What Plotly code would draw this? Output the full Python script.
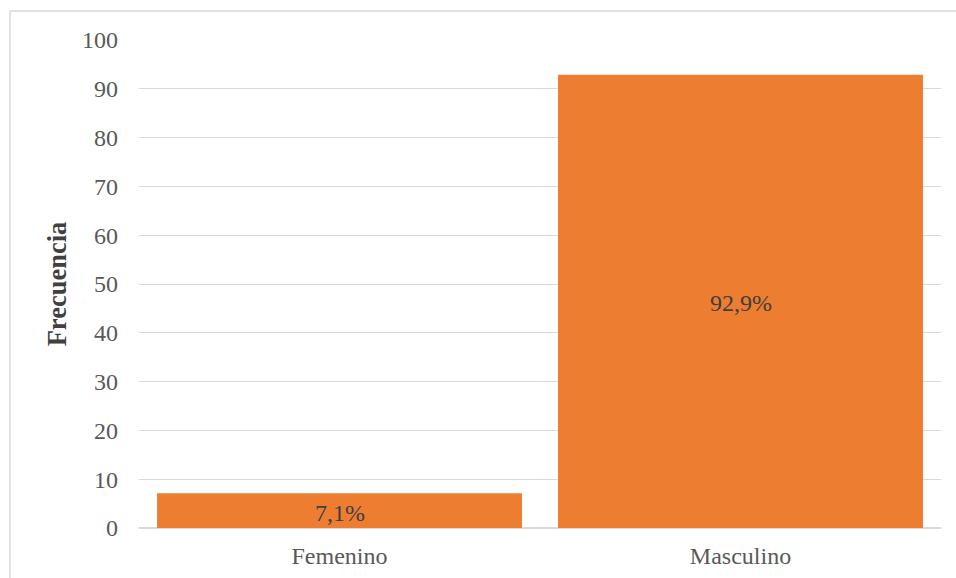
import plotly.graph_objects as go

categories = ["Femenino", "Masculino"]
values = [7.1, 92.9]
labels = ["7,1%", "92,9%"]
tick_vals = [0, 10, 20, 30, 40, 50, 60, 70, 80, 90, 100]

L, R, T, B = 139, 15, 40, 50
W, H = 956, 578
pw, ph = W - L - R, H - T - B
SERIF = "Liberation Serif"

fig = go.Figure(go.Bar(
    x=categories, y=values,
    marker=dict(color="#ED7D31", line=dict(width=0)),
    width=0.91,
))

annotations = [
    dict(x=c, y=v / 2, xref="x", yref="y", text=t, showarrow=False,
         font=dict(family=SERIF, size=24, color="#404040"), yshift=-2)
    for c, v, t in zip(categories, values, labels)
]

fig.update_layout(
    width=W, height=H,
    margin=dict(l=L, r=R, t=T, b=B, autoexpand=False),
    paper_bgcolor="white", plot_bgcolor="white",
    font=dict(family=SERIF, size=24, color="#595959"),
    showlegend=False,
    annotations=annotations,
    xaxis=dict(showgrid=False, showline=False, ticks="", ticklabelstandoff=11, automargin=False,
               tickfont=dict(family=SERIF, size=24, color="#595959")),
    yaxis=dict(range=[0, 100], tickvals=tick_vals, showgrid=True, gridcolor="#d9d9d9", gridwidth=1,
               zeroline=True, zerolinecolor="#d9d9d9", zerolinewidth=1.5,
               ticks="", ticklabelstandoff=20, automargin=False,
               tickfont=dict(family=SERIF, size=24, color="#595959"),
               title=dict(text="<b>Frecuencia</b>", font=dict(family=SERIF, size=26.5, color="#404040"), standoff=7)),
    shapes=[dict(type="rect", xref="paper", yref="paper",
                 x0=(10 - L) / pw, x1=(W + 5 - L) / pw,
                 y0=-(H + 5 - T - ph) / ph, y1=1 + (T - 11) / ph,
                 line=dict(color="#d9d9d9", width=1.5), fillcolor="rgba(0,0,0,0)", layer="below")],
)

fig.write_html("out.html")
